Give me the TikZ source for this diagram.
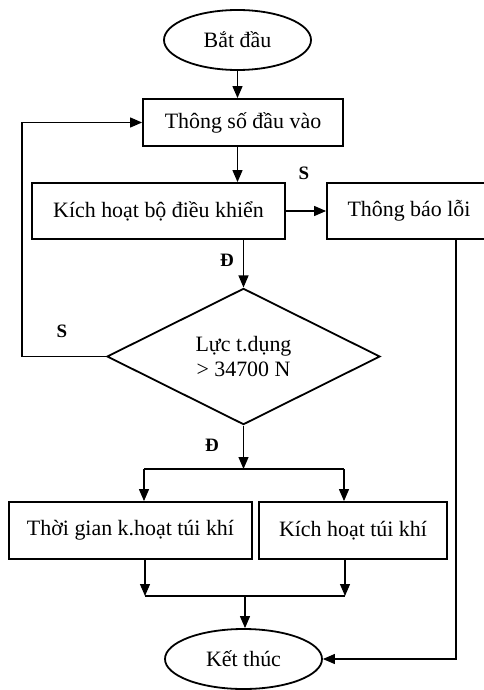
\documentclass[tikz,border=0pt]{standalone}
\usepackage{fontspec}
\setmainfont{Liberation Serif}
\usetikzlibrary{shapes.geometric,arrows.meta,calc}
\begin{document}
\begin{tikzpicture}[x=1bp,y=-1bp,
  box/.style={draw,line width=1.8bp,rectangle,inner sep=0pt,font=\fontsize{22}{25}\selectfont},
  term/.style={draw,line width=1.8bp,ellipse,inner sep=0pt,font=\fontsize{22}{25}\selectfont},
  decision/.style={draw,line width=1.8bp,diamond,inner sep=0pt,align=center,font=\fontsize{22}{25}\selectfont},
  arr/.style={line width=1.1bp,-{Triangle[length=12bp,width=10bp]}},
  plain/.style={line width=1.1bp},
  lab/.style={font=\fontsize{19}{21}\selectfont\bfseries,inner sep=0pt}]
\useasboundingbox (0,0) rectangle (484,690);
\fill[white] (0,0) rectangle (484,690);

\node[term, minimum width=147bp, minimum height=60bp] (start) at (237.5,40) {Bắt đầu};
\node[box, minimum width=200bp, minimum height=47bp] (input) at (243,122.5) {Thông số đầu vào};
\node[box, minimum width=253bp, minimum height=56bp] (kich) at (158.5,211) {Kích hoạt bộ điều khiển};
\node[box, minimum width=164bp, minimum height=56bp] (loi) at (409,211) {Thông báo lỗi};
\node[decision, minimum width=273bp, minimum height=135bp] (dec) at (243.5,356.5) {Lực t.dụng\\> 34700 N};
\node[box, minimum width=243bp, minimum height=57bp] (t1) at (130.5,530.5) {Thời gian k.hoạt túi khí};
\node[box, minimum width=188bp, minimum height=57bp] (t2) at (353,530.5) {Kích hoạt túi khí};
\node[term, minimum width=157bp, minimum height=60bp] (end) at (243.5,659) {Kết thúc};

\draw[arr] (start.south) -- (start.south |- input.north);
\draw[arr] (input.south -| start.south) -- (kich.north -| start.south);
\draw[arr] (kich.east) -- (loi.west);
\node[lab] (s1) at (304,173) {S};
\draw[arr] (kich.south -| dec.north) -- (dec.north);
\node[lab] (d1) at (227,260) {Đ};

\coordinate (lx) at (22,0);
\draw[arr] (dec.west) -- (dec.west -| lx) -- (input.west -| lx) -- (input.west);
\node[lab] (s2) at (62,331) {S};

\coordinate (split) at (243.5,469);
\draw[arr] (dec.south) -- (split);
\node[lab] (d2) at (212,445) {Đ};
\coordinate (sl) at (144,469);
\coordinate (sr) at (344,469);
\draw[plain] (sl) -- (sr);
\draw[arr] (sl) -- (sl |- t1.north);
\draw[arr] (sr) -- (sr |- t2.north);

\coordinate (jl) at (145,596);
\coordinate (jr) at (345,596);
\coordinate (jm) at (245,596);
\draw[arr] (t1.south -| jl) -- (jl);
\draw[arr] (t2.south -| jr) -- (jr);
\draw[plain] (jl) -- (jr);
\draw[arr] (jm) -- (jm |- end.north);

\coordinate (rx) at (456,0);
\draw[arr] (loi.south -| rx) -- (end.east -| rx) -- (end.east);
\end{tikzpicture}
\end{document}
